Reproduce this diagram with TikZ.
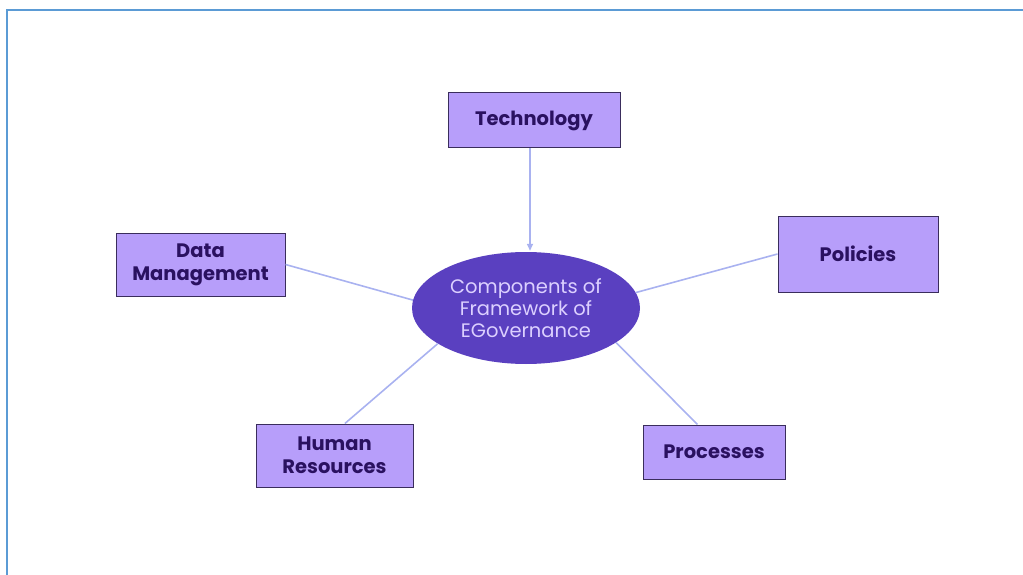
\documentclass[tikz,border=0pt]{standalone}
\usepackage{fontspec}
\setmainfont{Poppins}
\usetikzlibrary{shapes.geometric,calc,arrows.meta}
\definecolor{boxfill}{HTML}{B79EFA}
\definecolor{boxdraw}{HTML}{3A2D5C}
\definecolor{boxtext}{HTML}{2A1160}
\definecolor{elfill}{HTML}{5A40C0}
\definecolor{eltext}{HTML}{DCD0FF}
\definecolor{linkcol}{HTML}{A9B2F0}
\definecolor{framecol}{HTML}{5B9BD5}
\begin{document}
\begin{tikzpicture}[x=1pt,y=-1pt,
  compbox/.style={draw=boxdraw,fill=boxfill,line width=1pt,inner sep=0pt,
    text=boxtext,font=\fontsize{19.5}{23}\selectfont\bfseries,align=center},
  hub/.style={ellipse,fill=elfill,inner sep=0pt,text=eltext,
    font=\fontsize{19.5}{22}\selectfont,align=center},
  link/.style={draw=linkcol,line width=1.6pt},
  linkarrow/.style={link,-{Triangle[length=7pt,width=6pt]}}]
\useasboundingbox (0,0) rectangle (1023,575);
\draw[framecol,line width=2pt] (7,575) -- (7,10) -- (1023,10);
\node[compbox,minimum width=172pt,minimum height=55pt] (tech) at (534,120.5) {Technology};
\node[compbox,minimum width=169pt,minimum height=63pt] (dm) at (200.5,264.5) {Data\\Management};
\node[compbox,minimum width=160pt,minimum height=76pt] (pol) at (858,254) {Policies};
\node[compbox,minimum width=157pt,minimum height=63pt] (hr) at (334.5,455.5) {Human\\Resources};
\node[compbox,minimum width=142pt,minimum height=54pt] (pr) at (714,452) {Processes};
\node[hub,minimum width=228pt,minimum height=112pt] (el) at (526,308) {Components of\\Framework of\\EGovernance};
\draw[linkarrow] ($(tech.south)+(-4,0)$) -- ($(el.north)+(4,-1)$);
\draw[link] (dm.east) -- (el.176);
\draw[link] (pol.west) -- (el.8);
\draw[link] (hr.72) -- (el.202);
\draw[link] (pr.121) -- (el.339);
\end{tikzpicture}
\end{document}
